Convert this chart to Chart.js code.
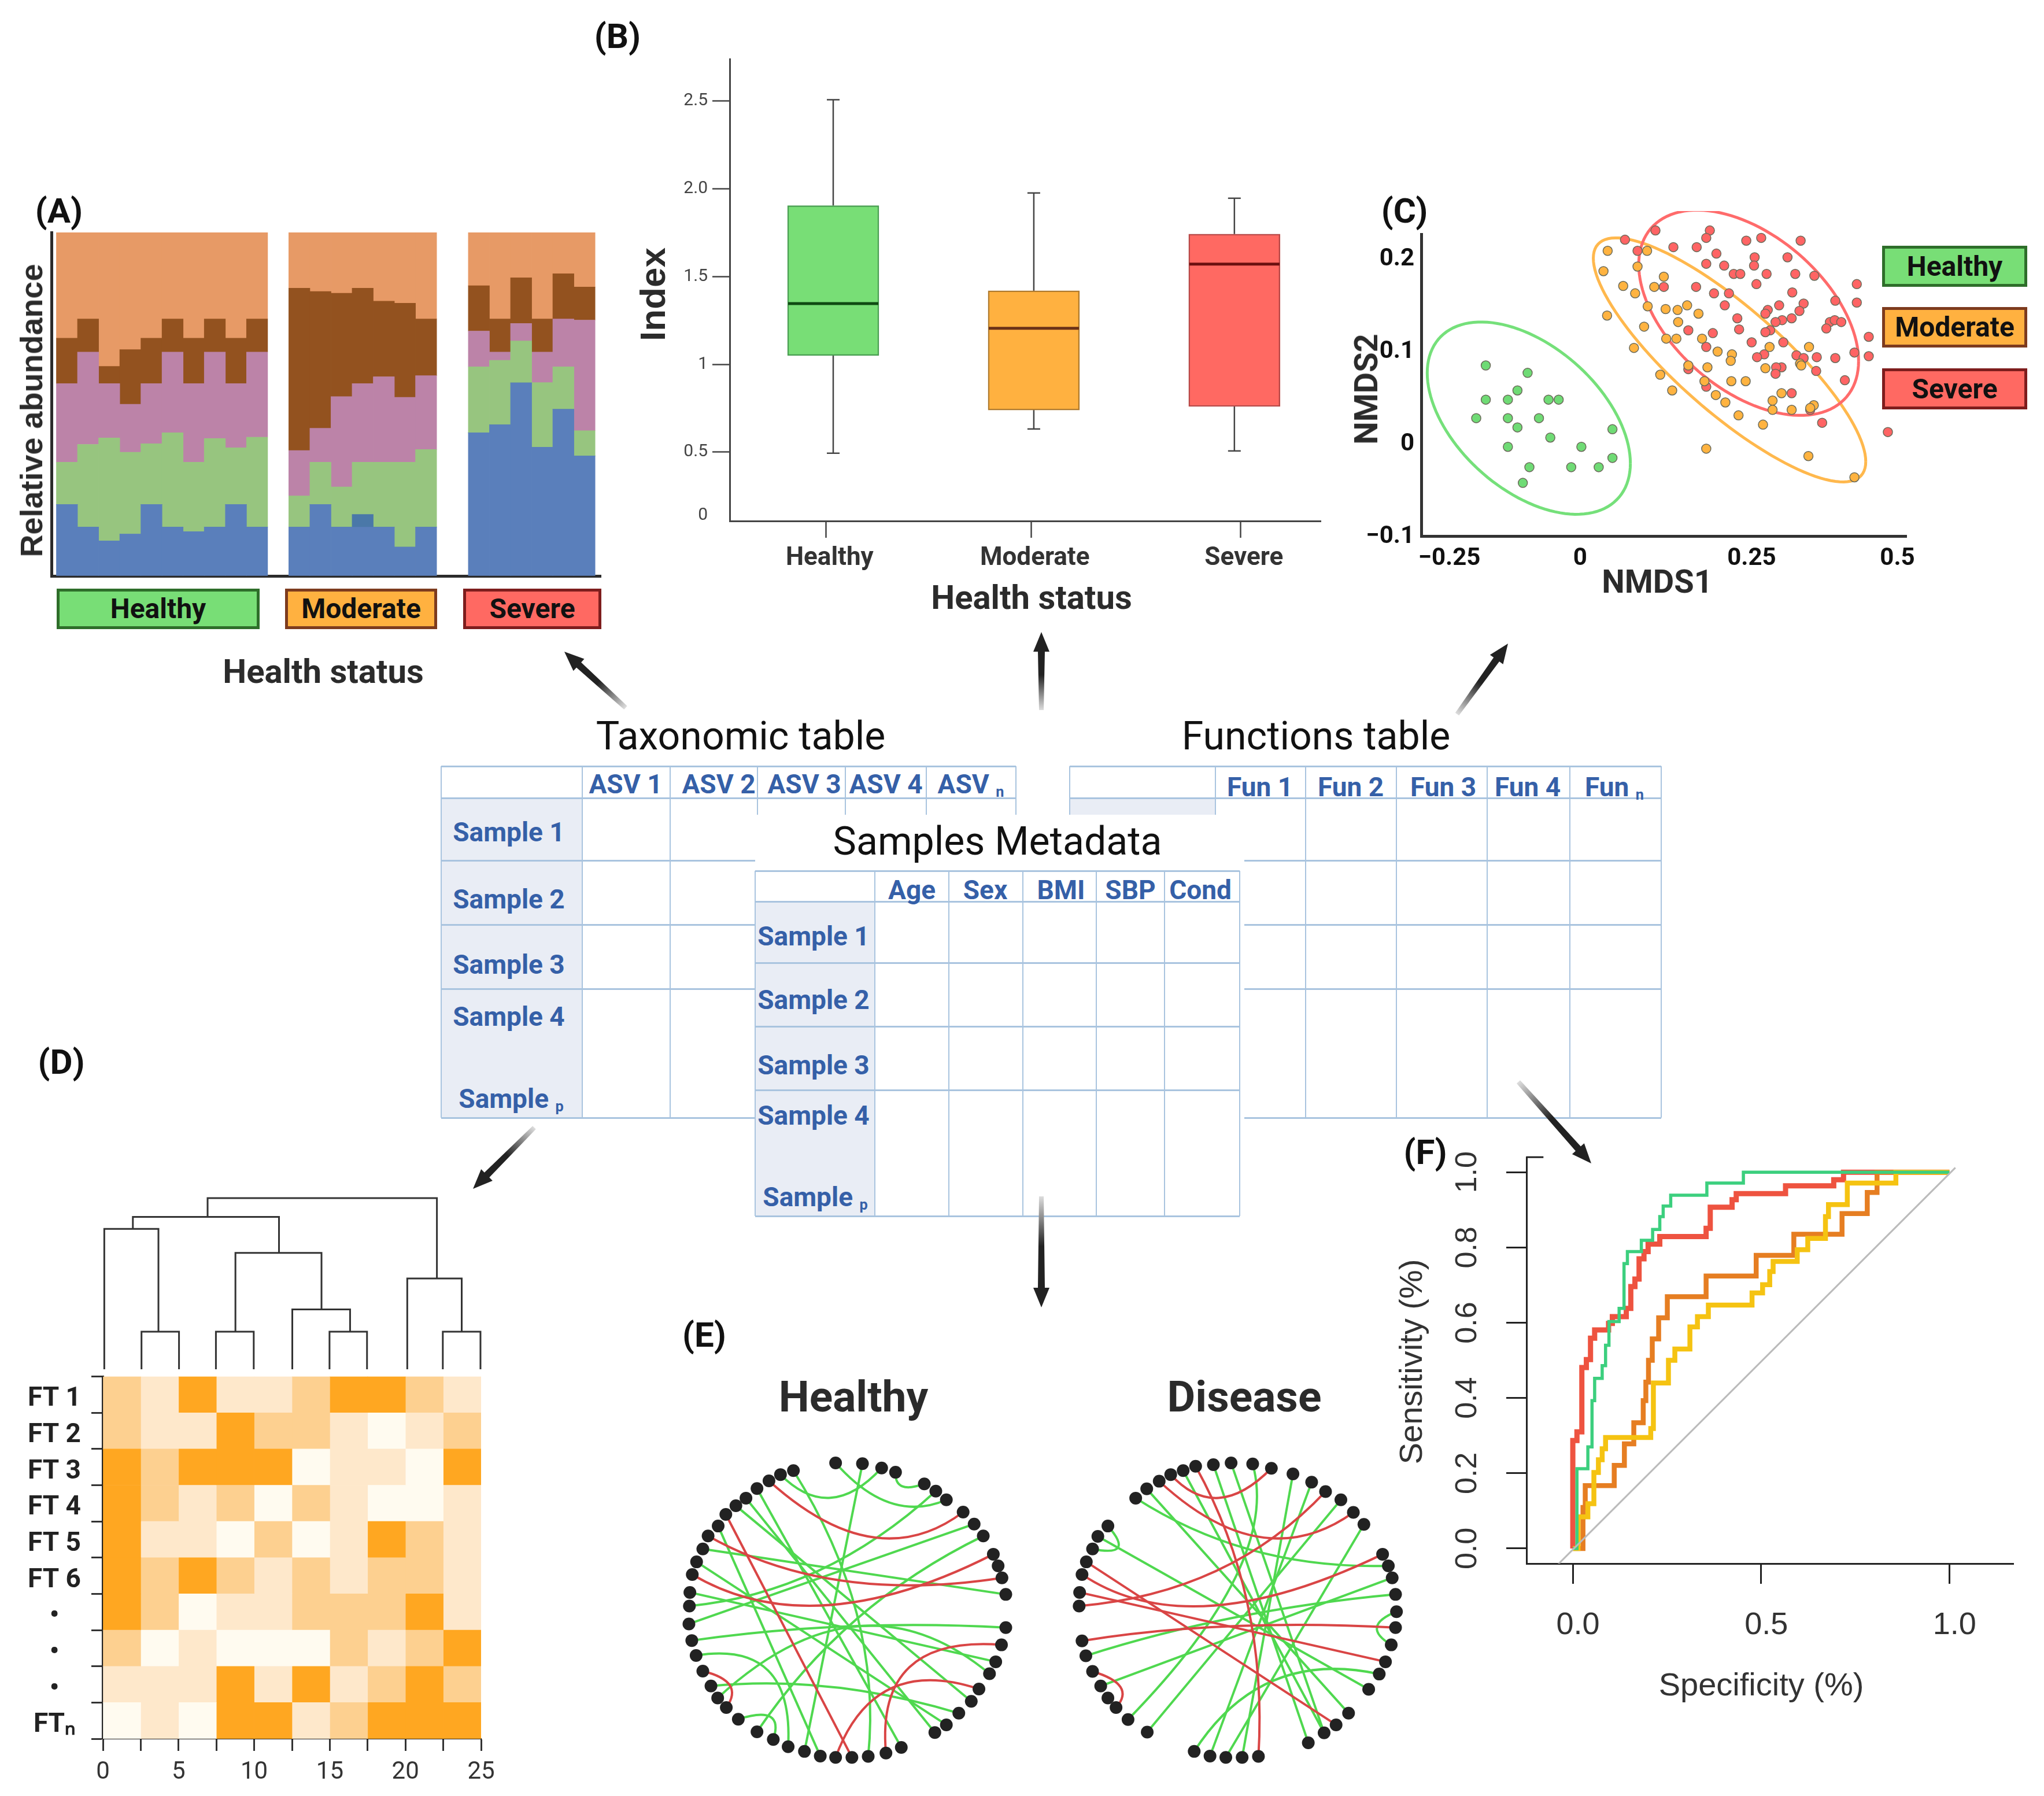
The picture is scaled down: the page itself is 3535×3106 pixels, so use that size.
<!DOCTYPE html>
<html>
<head>
<meta charset="utf-8">
<style>
html,body{margin:0;padding:0;background:#fff}
#page{position:relative;width:3535px;height:3106px;overflow:hidden;background:#fff;font-family:Roboto,sans-serif}
#page canvas{position:absolute}
.t{position:absolute;white-space:nowrap;transform:translate(-50%,-50%);line-height:1}
.ln{position:absolute;background:#a9c4df}
.box{position:absolute;box-sizing:border-box;border-style:solid;border-width:5px}
sub{font-size:.55em;vertical-align:-.25em;line-height:0}
</style>
<script src="https://cdn.jsdelivr.net/npm/chart.js@4/dist/chart.umd.min.js"></script>
</head>
<body>
<div id="page"></div>
<script>
// ----- (A) stacked relative abundance, % -----
const abundanceSlots = [.5,1.5,2.5,3.5,4.5,5.5,6.5,7.5,8.5,9.5, 11.5,12.5,13.5,14.5,15.5,16.5,17.5, 20,21,22,23,24,25];
const abundanceBlue = [20.8,14.2,10.2,12.2,20.8,14.2,12.9,14.2,20.8,14.2, 14.2,20.8,14.2,14.2,14.2,8.4,14.2, 41.7,44.0,56.2,37.5,48.5,34.9];
const abundanceOverlap = [0,0,0,0,0,0,0,0,0,0, 0,0,0,3.7,0,0,0, 0,0,0,0,0,0];
const abundanceGreen = [12.3,24.1,30.0,23.8,17.7,27.5,20.2,25.8,16.5,26.2, 9.1,12.3,11.7,15.2,18.9,24.7,22.6, 19.2,18.8,12.2,18.8,12.4,7.4];
const abundancePink = [22.9,26.9,15.8,14.0,17.5,23.5,22.9,25.2,18.7,24.8, 13.2,9.9,26.3,22.9,24.9,18.9,21.5, 10.4,2.4,5.1,8.9,13.9,32.2];
const abundanceBrown = [13.2,9.6,5.0,15.9,13.2,9.6,13.2,9.6,13.2,9.6, 47.3,39.8,30.1,27.8,22.0,27.4,16.5, 13.2,9.6,13.3,9.6,13.2,9.6];
const abundanceOrange = [30.8,25.2,39.0,34.1,30.8,25.2,30.8,25.2,30.8,25.2, 16.2,17.2,17.7,16.2,20.0,20.6,25.2, 15.5,25.2,13.2,25.2,12.0,15.9];

// ----- (B) box plot -----
const boxCats = [1,2,3];
const boxLow = [.494,.632,.507];
const boxQ1 = [1.05,.74,.76];
const boxMedian = [1.346,1.205,1.571];
const boxQ3 = [1.904,1.419,1.742];
const boxHigh = [2.507,1.976,1.946];
const boxYTicks = [.138,.5,1,1.5,2,2.5];
const boxYLabels = ["0","0.5","1","1.5","2.0","2.5"];
const boxXTicks = [.965,1.988,3.03];
const boxXLabels = ["Healthy","Moderate","Severe"];

// ----- (C) NMDS ordination -----
const nmdsHealthy = [[-.189,.082],[-.119,.074],[-.136,.055],[-.189,.045],[-.152,.045],[-.084,.045],[-.067,.045],[-.205,.025],[-.152,.025],[-.100,.025],[-.136,.015],[.023,.013],[-.081,.004],[-.152,-.006],[-.029,-.006],[.023,-.018],[-.116,-.028],[-.046,-.028],[0,-.028],[-.127,-.045]];
const nmdsModerate = [[.015,.206],[.081,.206],[.008,.184],[.065,.189],[.109,.178],[.041,.168],[.093,.167],[.061,.160],[.082,.146],[.112,.143],[.132,.142],[.148,.147],[.167,.138],[.014,.136],[.133,.129],[.076,.124],[.113,.111],[.130,.111],[.173,.111],[.059,.101],[.199,.097],[.286,.102],[.352,.102],[.223,.094],[.221,.087],[.150,.082],[.182,.080],[.279,.079],[.337,.084],[.339,.082],[.103,.072],[.177,.065],[.222,.065],[.246,.065],[.123,.055],[.196,.050],[.306,.052],[.291,.044],[.212,.042],[.360,.039],[.291,.034],[.323,.034],[.354,.036],[.234,.028],[.275,.018],[.180,-.008],[.351,-.016],[.428,-.039]];
const nmdsSevere = [[-.104,.230],[.044,.218],[.095,.228],[.186,.228],[.180,.220],[.253,.230],[.247,.217],[.272,.220],[.338,.217],[.065,.206],[.125,.210],[.164,.210],[.197,.203],[.261,.199],[.316,.199],[.180,.192],[.210,.190],[.260,.190],[.226,.181],[.237,.181],[.281,.181],[.329,.181],[.361,.179],[.264,.170],[.432,.170],[.109,.167],[.163,.167],[.193,.160],[.218,.160],[.324,.161],[.396,.152],[.432,.150],[.343,.149],[.302,.147],[.211,.147],[.283,.142],[.336,.141],[.279,.138],[.232,.133],[.323,.133],[.307,.131],[.296,.129],[.387,.129],[.395,.131],[.406,.129],[.150,.120],[.191,.117],[.235,.121],[.381,.122],[.287,.120],[.279,.118],[.452,.113],[.256,.107],[.309,.107],[.180,.102],[.277,.094],[.265,.091],[.428,.096],[.331,.093],[.343,.090],[.365,.091],[.396,.090],[.452,.092],[.150,.078],[.306,.080],[.297,.080],[.296,.073],[.364,.076],[.412,.066],[.180,.059],[.323,.052],[.354,.034],[.374,.020],[.484,.010]];
const nmdsEllipseCx = [-.117,.219,.251];
const nmdsEllipseCy = [.025,.088,.139];
const nmdsEllipseSx = [.170,.228,.184];
const nmdsEllipseSy = [.104,.132,.111];
const nmdsEllipseRho = [-.47,-.833,-.47];
const nmdsXTicks = [-.25,-.031,.256,.5];
const nmdsXLabels = ["\u22120.25","0","0.25","0.5"];
const nmdsYTicks = [-.1,0,.1,.2];
const nmdsYLabels = ["\u22120.1","0","0.1","0.2"];

// ----- (D) heatmap levels, rows top to bottom -----
const heatLabels = ["FT 1","FT 2","FT 3","FT 4","FT 5","FT 6","\u2022","\u2022","\u2022","FT\u2099"];
const heatRows = [
  [2,1,3,1,1,2,3,3,2,1],
  [2,1,1,3,2,2,1,0,1,2],
  [3,2,3,3,3,0,1,1,0,3],
  [3,2,1,2,0,2,1,0,0,1],
  [3,1,1,0,2,0,1,3,2,1],
  [3,2,3,2,1,2,1,2,2,1],
  [3,2,0,1,1,2,2,2,3,1],
  [2,0,1,0,0,0,2,1,2,3],
  [1,1,1,3,1,3,1,2,3,2],
  [0,1,0,3,3,1,2,3,3,3]
];
const heatCellWidth = 2.5;
// dendrogram links: left x, left base, right x, right base, merge height
const dendroLinks = [
  [2.55,0,5.03,0,2.2],[.09,0,3.67,2.2,8.2],[7.47,0,9.97,0,2.2],[14.98,0,17.46,0,2.2],
  [12.52,0,16.34,2.2,3.5],[8.76,2.2,14.45,3.5,6.8],[1.98,8.2,11.64,6.8,8.9],
  [22.47,0,24.96,0,2.2],[20.12,0,23.72,2.2,5.3],[6.92,8.9,22.08,5.3,10]
];

// ----- (E) networks, layout units; edges are [from,to] or [from,to,ctrlX,ctrlY] -----
const healthyNodes = [[356,575],[412,577],[452,590],[481,603],[541,638],[565,660],[587,686],[622,723],[645,759],[664,795],[685,850],[695,885],[703,921],[711,971],[711,1071],[702,1123],[690,1174],[677,1210],[655,1256],[639,1293],[613,1329],[587,1364],[563,1387],[493,1432],[461,1449],[424,1459],[390,1462],[356,1462],[324,1458],[291,1444],[257,1430],[226,1408],[192,1385],[153,1347],[128,1312],[110,1283],[96,1247],[79,1202],[65,1155],[56,1110],[50,1060],[51,1006],[52,965],[57,911],[66,873],[79,834],[90,795],[111,765],[127,730],[148,704],[169,681],[192,652],[217,629],[241,610],[268,598]];
const healthyPos = [[54,25,454,1028],[1,29],[0,6,469,760],[53,2,344,760],[3,4,479,670],[5,41,332,967],[8,40],[9,32,372,1000],[35,17,407,888],[39,14,377,1044],[38,30,269,1108],[36,20,346,1212],[33,31,250,1302],[51,23],[50,22],[49,19],[47,28],[44,21],[42,16],[45,13]];
const healthyNeg = [[52,7,440,920],[48,26],[46,12,344,1002],[43,10,309,1126],[37,34,167,1233],[27,18,435,1151],[24,15,439,1094]];
const diseaseNodes = [[982,681],[1005,653],[1031,630],[1055,610],[1081,598],[1107,585],[1144,580],[1181,575],[1226,578],[1265,591],[1310,608],[1349,633],[1378,661],[1410,686],[1436,724],[1458,760],[1497,850],[1509,885],[1517,921],[1524,971],[1526,1023],[1524,1071],[1515,1123],[1503,1174],[1490,1211],[1468,1257],[1426,1329],[1400,1364],[1375,1388],[1342,1418],[1238,1459],[1204,1462],[1170,1462],[1137,1458],[1104,1444],[1006,1386],[966,1348],[941,1312],[924,1283],[909,1247],[892,1203],[878,1156],[870,1111],[864,1006],[865,965],[870,911],[879,873],[892,834],[903,796],[924,765]];
const diseasePos = [[0,17,1215,897],[4,28],[6,29],[7,28],[1,26],[48,25],[34,24,1243,1133],[33,11],[32,15],[31,10],[8,36,1284,877],[35,13],[39,18],[41,19,1179,1017],[49,47,982,860],[20,22,1450,1067]];
const diseaseNeg = [[5,30,1258,978],[3,9,1150,760],[2,14,1247,919],[43,12,1179,967],[44,23],[45,16,1096,1130],[46,27],[42,21,1163,1043],[40,37,984,1243]];

// ----- (F) ROC steps -----
const rocGreenX = [0,.011,.040,.051,.058,.078,.087,.096,.123,.136,.145,.182,.212,.231,.240,.260,.356,.453,1];
const rocGreenY = [0,.212,.270,.393,.452,.486,.540,.603,.638,.757,.789,.819,.848,.882,.910,.939,.971,1,1];
const rocYellowX = [0,.014,.040,.056,.068,.078,.087,.207,.214,.254,.271,.311,.331,.360,.476,.504,.523,.532,.596,.624,.671,.679,.729,.858,1];
const rocYellowY = [0,.084,.119,.202,.236,.265,.295,.319,.440,.500,.530,.589,.616,.647,.679,.701,.736,.763,.794,.824,.882,.914,.971,1,1];
const rocOrangeX = [0,.027,.033,.110,.137,.162,.187,.194,.201,.211,.228,.251,.354,.487,.587,.715,.782,.808,1];
const rocOrangeY = [0,.109,.167,.221,.278,.334,.393,.442,.500,.557,.613,.669,.724,.779,.835,.890,.946,1,1];
const rocRedX = [0,0,.011,.024,.036,.047,.058,.095,.105,.142,.154,.165,.176,.189,.200,.231,.354,.365,.423,.434,.565,.693,.719,1];
const rocRedY = [0,.287,.310,.481,.502,.559,.581,.598,.616,.638,.696,.716,.770,.789,.809,.829,.851,.907,.927,.943,.964,.980,1,1];
const rocXTicks = [0,.5,1];
const rocXLabels = ["0.0","0.5","1.0"];
const rocYTicks = [0,.2,.4,.6,.8,1];
const rocYLabels = ["0.0","0.2","0.4","0.6","0.8","1.0"];

// ----- tables -----
const taxonomicCols = ["ASV 1","ASV 2","ASV 3","ASV 4","ASV <sub>n</sub>"];
const functionCols = ["Fun 1","Fun 2","Fun 3","Fun 4","Fun <sub>n</sub>"];
const metadataCols = ["Age","Sex","BMI","SBP","Cond"];
const sampleRows = ["Sample 1","Sample 2","Sample 3","Sample 4","Sample <sub>p</sub>"];

// ----- colours -----
const GREEN="#78de76", ORANGE="#ffb140", RED="#ff6962", INK="#2b2b2b";
const heatColors = ["#fffbf0","#fee8cb","#fdd090","#ffa721"];

// ----- helpers -----
const page = document.getElementById("page");
function text(html,x,y,size,weight,o){
  o=o||{};
  const d=document.createElement("div");
  d.className="t"; d.innerHTML=html;
  d.style.left=x+"px"; d.style.top=y+"px";
  d.style.fontSize=size+"px"; d.style.fontWeight=weight;
  d.style.color=o.color||INK;
  if(o.family) d.style.fontFamily=o.family;
  if(o.rot) d.style.transform="translate(-50%,-50%) rotate("+o.rot+"deg)";
  page.appendChild(d);
}
function rect(x,y,w,h,bg){
  const d=document.createElement("div");
  d.className="ln";
  d.style.cssText+=`left:${x}px;top:${y}px;width:${w}px;height:${h}px;background:${bg};`;
  page.appendChild(d);
}
function tag(label,l,t,r,b,fill,edge){
  const d=document.createElement("div");
  d.className="box";
  d.style.cssText+=`left:${l}px;top:${t}px;width:${r-l}px;height:${b-t}px;background:${fill};border-color:${edge};`;
  page.appendChild(d);
  text(label,(l+r)/2,(t+b)/2,48,700,{color:"#111"});
}
// canvas sized so the chart area lands on area={l,t,r,b}; m = margins round it
function canvasFor(area,m){
  const c=document.createElement("canvas");
  c.width=area.r-area.l+m.l+m.r;
  c.height=area.b-area.t+m.t+m.b;
  c.style.left=(area.l-m.l)+"px";
  c.style.top=(area.t-m.t)+"px";
  page.appendChild(c);
  return c;
}
function baseOptions(m){
  return {
    responsive:false, animation:false, devicePixelRatio:1,
    layout:{autoPadding:false,padding:{top:m.t,right:m.r,left:0,bottom:0}},
    plugins:{legend:{display:false},tooltip:{enabled:false}}
  };
}
const setTicks = (arr)=> (s)=>{ s.ticks=arr.map(v=>({value:v})); };
const pts = (a)=> a.map(p=>({x:p[0],y:p[1]}));
const zipXY = (xs,ys)=> xs.map((x,i)=>({x,y:ys[i]}));

// ----- (A) -----
(function(){
  const area={l:89,t:402,r:1039,b:996}, m={l:6,t:4,r:4,b:6};
  const ds=(data,color)=>({data:abundanceSlots.map((x,i)=>({x,y:data[i]})),backgroundColor:color,barThickness:36.6,borderWidth:0});
  new Chart(canvasFor(area,m),{
    type:"bar",
    data:{datasets:[
      ds(abundanceBlue,"#5a7fbb"),ds(abundanceOverlap,"#4a78a8"),ds(abundanceGreen,"#97c57f"),
      ds(abundancePink,"#bc83a8"),ds(abundanceBrown,"#93521f"),ds(abundanceOrange,"#e79a66")
    ]},
    options:Object.assign(baseOptions(m),{scales:{
      x:{type:"linear",stacked:true,offset:false,min:-.233,max:25.77,afterFit:s=>{s.height=m.b;},
         grid:{offset:false,drawOnChartArea:false,drawTicks:false},ticks:{display:false},border:{color:INK,width:5}},
      y:{stacked:true,min:0,max:100,afterFit:s=>{s.width=m.l;},
         grid:{drawOnChartArea:false,drawTicks:false},ticks:{display:false},border:{color:INK,width:5}}
    }})
  });
})();
tag("Healthy",98,1018,449,1088,GREEN,"#2e6e2a");
tag("Moderate",493,1018,756,1088,ORANGE,"#7d3b1e");
tag("Severe",801,1018,1040,1088,RED,"#7e1d1d");

// ----- (B) -----
(function(){
  const area={l:1262,t:102,r:2284,b:901}, m={l:90,t:40,r:20,b:90};
  const fills=[GREEN,ORANGE,RED], edges=["#4a9e52","#b07a2c","#b84a48"], meds=["#0f4a12","#6b3218","#6b1010"];
  const whiskers={id:"whiskers",
    beforeDatasetsDraw(ch){
      const c=ch.ctx,x=ch.scales.x,y=ch.scales.y;
      c.save(); c.strokeStyle="#444"; c.lineWidth=2.5;
      boxCats.forEach((k,i)=>{
        const px=x.getPixelForValue(k);
        [[boxLow[i],boxQ1[i]],[boxQ3[i],boxHigh[i]]].forEach(s=>{
          c.beginPath(); c.moveTo(px,y.getPixelForValue(s[0])); c.lineTo(px,y.getPixelForValue(s[1])); c.stroke();
        });
        [boxLow[i],boxHigh[i]].forEach(v=>{
          const py=y.getPixelForValue(v);
          c.beginPath(); c.moveTo(px-11,py); c.lineTo(px+11,py); c.stroke();
        });
      });
      c.restore();
    },
    afterDatasetsDraw(ch){
      const c=ch.ctx,x=ch.scales.x,y=ch.scales.y;
      c.save(); c.lineWidth=5;
      boxCats.forEach((k,i)=>{
        const px=x.getPixelForValue(k),py=y.getPixelForValue(boxMedian[i]);
        c.strokeStyle=meds[i];
        c.beginPath(); c.moveTo(px-78,py); c.lineTo(px+78,py); c.stroke();
      });
      c.restore();
    }};
  new Chart(canvasFor(area,m),{
    type:"bar",
    data:{datasets:[{
      data:boxCats.map((k,i)=>({x:k,y:[boxQ1[i],boxQ3[i]]})),
      backgroundColor:fills,borderColor:edges,borderWidth:2.5,borderSkipped:false,barThickness:158
    }]},
    options:Object.assign(baseOptions(m),{scales:{
      x:{type:"linear",offset:false,min:.484,max:3.43,afterBuildTicks:setTicks(boxXTicks),afterFit:s=>{s.height=m.b;},
         grid:{offset:false,drawOnChartArea:false,tickLength:29,tickWidth:2.5,tickColor:"#444"},border:{color:"#444",width:3},
         ticks:{autoSkip:false,maxRotation:0,padding:10,labelOffset:6,color:"#333",font:{family:"Roboto",size:44,weight:"700"},callback:(v,i)=>boxXLabels[i]}},
      y:{min:.108,max:2.739,afterBuildTicks:setTicks(boxYTicks),afterFit:s=>{s.width=m.l;},
         grid:{drawOnChartArea:false,tickLength:30,tickWidth:2.5,tickColor:c=>c.index===0?"rgba(0,0,0,0)":"#444"},border:{color:"#444",width:3},
         ticks:{autoSkip:false,padding:8,color:"#444",font:{family:"Roboto",size:30},callback:(v,i)=>boxYLabels[i]}}
    }}),
    plugins:[whiskers]
  });
})();

// ----- (C) -----
(function(){
  const area={l:2458,t:405,r:3297,b:927}, m={l:100,t:40,r:60,b:70};
  const ellColors=["#75e07a","#ffb84d","#ff6b6b"];
  const ellipses={id:"ellipses",beforeDatasetsDraw(ch){
    const c=ch.ctx,x=ch.scales.x,y=ch.scales.y;
    c.save(); c.lineWidth=5;
    nmdsEllipseCx.forEach((cx,i)=>{
      const s=Math.sqrt(1-nmdsEllipseRho[i]*nmdsEllipseRho[i]);
      c.strokeStyle=ellColors[i]; c.beginPath();
      for(let k=0;k<=120;k++){
        const t=k/120*2*Math.PI;
        const vx=cx+nmdsEllipseSx[i]*Math.cos(t);
        const vy=nmdsEllipseCy[i]+nmdsEllipseSy[i]*(nmdsEllipseRho[i]*Math.cos(t)+s*Math.sin(t));
        const px=x.getPixelForValue(vx),py=y.getPixelForValue(vy);
        if(k) c.lineTo(px,py); else c.moveTo(px,py);
      }
      c.stroke();
    });
    c.restore();
  }};
  const ds=(a,col)=>({data:pts(a),backgroundColor:col,borderColor:"#6b6b5a",borderWidth:1.5,pointRadius:8,clip:false});
  new Chart(canvasFor(area,m),{
    type:"scatter",
    data:{datasets:[ds(nmdsHealthy,"#6fdb75"),ds(nmdsModerate,"#ffb340"),ds(nmdsSevere,"#ff6464")]},
    options:Object.assign(baseOptions(m),{scales:{
      x:{type:"linear",min:-.297,max:.515,afterBuildTicks:setTicks(nmdsXTicks),afterFit:s=>{s.height=m.b;},
         grid:{drawOnChartArea:false,drawTicks:false},border:{color:"#333",width:5},
         ticks:{autoSkip:false,maxRotation:0,padding:14,color:"#111",font:{family:"Roboto",size:42,weight:"700"},callback:(v,i)=>nmdsXLabels[i]}},
      y:{type:"linear",min:-.1025,max:.224,afterBuildTicks:setTicks(nmdsYTicks),afterFit:s=>{s.width=m.l;},
         grid:{drawOnChartArea:false,drawTicks:false},border:{color:"#333",width:5},
         ticks:{autoSkip:false,padding:12,labelOffset:5,color:"#111",font:{family:"Roboto",size:42,weight:"700"},callback:(v,i)=>nmdsYLabels[i]}}
    }}),
    plugins:[ellipses]
  });
})();
tag("Healthy",3255,425,3506,496,GREEN,"#2e6e2a");
tag("Moderate",3255,531,3506,601,ORANGE,"#7d3b1e");
tag("Severe",3255,637,3506,708,RED,"#7e1d1d");

// ----- (D) heatmap + dendrogram -----
(function(){
  const area={l:178,t:2375,r:832,b:3007}, m={l:170,t:40,r:40,b:80};
  const cols=heatRows[0].map((_,c)=>({
    data:heatRows.map(()=>heatCellWidth),
    backgroundColor:heatRows.map(r=>heatColors[r[c]]),
    borderWidth:0,barPercentage:1,categoryPercentage:1
  }));
  new Chart(canvasFor(area,m),{
    type:"bar",
    data:{labels:heatLabels,datasets:cols},
    options:Object.assign(baseOptions(m),{indexAxis:"y",scales:{
      x:{type:"linear",stacked:true,min:0,max:25,afterFit:s=>{s.height=m.b;},
         grid:{drawOnChartArea:false,tickLength:21,tickWidth:3,tickColor:"#333"},border:{color:"#222",width:2},
         ticks:{stepSize:2.5,autoSkip:false,maxRotation:0,padding:12,color:"#333",font:{family:"Roboto",size:42},callback:v=>v%5===0?String(v):""}},
      y:{stacked:true,afterFit:s=>{s.width=m.l;},
         grid:{drawOnChartArea:false,tickLength:20,tickWidth:3,tickColor:"#333"},border:{color:"#222",width:4},
         ticks:{autoSkip:false,crossAlign:"center",padding:18,labelOffset:8,color:"#222",font:{family:"Roboto",size:46,weight:"700"}}}
    }})
  });
  const dArea={l:178,t:2072,r:832,b:2368}, dm={l:4,t:4,r:4,b:4};
  const links=dendroLinks.map(k=>({
    data:[{x:k[0],y:k[1]},{x:k[0],y:k[4]},{x:k[2],y:k[4]},{x:k[2],y:k[3]}],
    showLine:true,borderColor:"#333",borderWidth:3,pointRadius:0,clip:false,borderJoinStyle:"miter"
  }));
  const o=baseOptions({t:4,r:4});
  o.layout.padding={top:4,right:4,left:4,bottom:4};
  o.scales={x:{type:"linear",display:false,min:0,max:25},y:{type:"linear",display:false,min:0,max:10}};
  new Chart(canvasFor(dArea,dm),{type:"scatter",data:{datasets:links},options:o});
})();

// ----- (E) networks -----
(function(){
  const area={l:1150,t:2487,r:2450,b:3061}, m={l:0,t:0,r:0,b:0};
  const edgePlugin={id:"edges",beforeDatasetsDraw(ch){
    const c=ch.ctx,x=ch.scales.x,y=ch.scales.y;
    const draw=(nodes,edges,col)=>{
      c.strokeStyle=col;
      edges.forEach(e=>{
        const a=nodes[e[0]],b=nodes[e[1]];
        c.beginPath();
        c.moveTo(x.getPixelForValue(a[0]),y.getPixelForValue(a[1]));
        if(e.length>2) c.quadraticCurveTo(x.getPixelForValue(e[2]),y.getPixelForValue(e[3]),x.getPixelForValue(b[0]),y.getPixelForValue(b[1]));
        else c.lineTo(x.getPixelForValue(b[0]),y.getPixelForValue(b[1]));
        c.stroke();
      });
    };
    c.save(); c.lineWidth=4;
    draw(healthyNodes,healthyPos,"#4fd84f"); draw(healthyNodes,healthyNeg,"#d94545");
    draw(diseaseNodes,diseasePos,"#4fd84f"); draw(diseaseNodes,diseaseNeg,"#d94545");
    c.restore();
  }};
  const ds=a=>({data:pts(a),backgroundColor:"#222",pointRadius:11,pointBorderWidth:0,clip:false});
  const o=baseOptions(m);
  o.scales={x:{type:"linear",display:false,min:0,max:1568},y:{type:"linear",display:false,min:500,max:1500,reverse:true}};
  new Chart(canvasFor(area,m),{type:"scatter",data:{datasets:[ds(healthyNodes),ds(diseaseNodes)]},options:o,plugins:[edgePlugin]});
})();

// ----- (F) ROC -----
(function(){
  const area={l:2640,t:2000,r:3482,b:2704}, m={l:140,t:60,r:20,b:130};
  const ds=(xs,ys,col,w)=>({data:zipXY(xs,ys),showLine:true,stepped:"before",borderColor:col,borderWidth:w,pointRadius:0,clip:false,borderJoinStyle:"miter"});
  new Chart(canvasFor(area,m),{
    type:"scatter",
    data:{datasets:[
      {data:[{x:-.038,y:-.041},{x:1.016,y:1.012}],showLine:true,borderColor:"#bbb",borderWidth:3,pointRadius:0},
      {data:[{x:-.123,y:1.04},{x:-.078,y:1.04}],showLine:true,borderColor:"#222",borderWidth:3,pointRadius:0,clip:false},
      ds(rocGreenX,rocGreenY,"#3ccf7e",5.5),
      ds(rocYellowX,rocYellowY,"#f5c312",8.5),
      ds(rocOrangeX,rocOrangeY,"#e67e22",8.5),
      ds(rocRedX,rocRedY,"#ee5340",9)
    ]},
    options:Object.assign(baseOptions(m),{scales:{
      x:{type:"linear",min:-.123,max:1.17,afterBuildTicks:setTicks(rocXTicks),afterFit:s=>{s.height=m.b;},
         grid:{drawOnChartArea:false,tickLength:35,tickWidth:3,tickColor:"#222"},border:{color:"#222",width:3},
         ticks:{autoSkip:false,maxRotation:0,padding:40,labelOffset:9,color:"#333",font:{family:"Liberation Sans",size:54},callback:(v,i)=>rocXLabels[i]}},
      y:{type:"linear",min:-.04,max:1.04,afterBuildTicks:setTicks(rocYTicks),afterFit:s=>{s.width=m.l;},
         grid:{drawOnChartArea:false,tickLength:35,tickWidth:3,tickColor:"#222"},border:{color:"#222",width:3},
         ticks:{autoSkip:false,minRotation:90,maxRotation:90,crossAlign:"center",padding:30,color:"#333",font:{family:"Liberation Sans",size:52},callback:(v,i)=>rocYLabels[i]}}
    }})
  });
})();

// ----- tables -----
const BLUE="#3560a8", SHADE="#e9edf5";
function drawTable(xs,ys,cols,colY,colCx){
  xs.forEach(x=>rect(x-1,ys[0],2,ys[ys.length-1]-ys[0],"#a9c4df"));
  ys.forEach(y=>rect(xs[0],y-1,xs[xs.length-1]-xs[0],2.5,"#a9c4df"));
  cols.forEach((c,i)=>text(c,colCx[i],colY,46,700,{color:BLUE}));
}
// taxonomic
rect(763,1380,244,553,SHADE);
drawTable([763,1007,1159,1310,1462,1602,1757],[1325,1380,1488,1599,1710,1933],taxonomicCols,1356,[1082,1243,1391,1532,1679]);
[[880,1439],[880,1555],[880,1668],[880,1758],[884,1900]].forEach((p,i)=>text(sampleRows[i],p[0],p[1],46,700,{color:BLUE}));
// functions
rect(1850,1380,252,553,SHADE);
drawTable([1850,2102,2258,2415,2572,2715,2873],[1325,1380,1488,1599,1710,1933],functionCols,1361,[2179,2336,2496,2642,2792]);
// metadata sits on a white patch over both
rect(1306,1409,846,700,"#fff");
rect(1306,1559,207,544,SHADE);
drawTable([1306,1513,1641,1769,1896,2014,2144],[1506,1559,1665,1775,1885,2103],metadataCols,1539,[1577,1704,1835,1955,2076]);
[[1407,1619],[1407,1729],[1407,1842],[1407,1929],[1410,2070]].forEach((p,i)=>text(sampleRows[i],p[0],p[1],46,700,{color:BLUE}));
text("Taxonomic table",1281,1273,68,400,{color:"#111"});
text("Functions table",2276,1273,68,400,{color:"#111"});
text("Samples Metadata",1725,1455,68,400,{color:"#111"});

// ----- panel letters and axis titles -----
[["(A)",102,365],["(B)",1068,63],["(C)",2429,365],["(D)",106,1837],["(E)",1218,2309],["(F)",2465,1993]]
  .forEach(p=>text(p[0],p[1],p[2],60,700,{color:"#111"}));
text("Relative abundance",54,710,54,700,{rot:-90,family:"Liberation Sans"});
text("Health status",559,1161,58,700);
text("Health status",1784,1033,58,700);
text("Index",1129,509,62,700,{rot:-90,family:"Liberation Sans"});
text("NMDS1",2866,1006,56,700);
text("NMDS2",2363,673,56,700,{rot:-90});
text("Healthy",1476,2415,75,700);
text("Disease",2152,2415,75,700);
text("Sensitivity (%)",2440,2355,56,400,{rot:-90,family:"Liberation Sans",color:"#333"});
text("Specificity (%)",3046,2913,56,400,{family:"Liberation Sans",color:"#333"});

// ----- arrows -----
const arrows=[[1082,1224,976,1127],[1801,1228,1801,1093],[2520,1235,2608,1113],[924,1950,818,2056],[1801,2069,1801,2261],[2626,1871,2752,2012]];
(function(){
  const NS="http://www.w3.org/2000/svg";
  const svg=document.createElementNS(NS,"svg");
  svg.setAttribute("width",3535); svg.setAttribute("height",3106);
  svg.style.cssText="position:absolute;left:0;top:0;pointer-events:none";
  const defs=document.createElementNS(NS,"defs"); svg.appendChild(defs);
  arrows.forEach((a,i)=>{
    const g=document.createElementNS(NS,"linearGradient");
    g.setAttribute("id","ag"+i); g.setAttribute("gradientUnits","userSpaceOnUse");
    g.setAttribute("x1",a[0]); g.setAttribute("y1",a[1]); g.setAttribute("x2",a[2]); g.setAttribute("y2",a[3]);
    [[0,"#ddd"],[.45,"#222"],[1,"#222"]].forEach(s=>{
      const st=document.createElementNS(NS,"stop");
      st.setAttribute("offset",s[0]); st.setAttribute("stop-color",s[1]); g.appendChild(st);
    });
    defs.appendChild(g);
    const dx=a[2]-a[0],dy=a[3]-a[1],len=Math.hypot(dx,dy),ux=dx/len,uy=dy/len,nx=-uy,ny=ux;
    const bx=a[2]-ux*34,by=a[3]-uy*34;
    const p=document.createElementNS(NS,"polygon");
    p.setAttribute("points",[
      [a[0]+nx*4,a[1]+ny*4],[bx+nx*6,by+ny*6],[bx+nx*14,by+ny*14],[a[2],a[3]],
      [bx-nx*14,by-ny*14],[bx-nx*6,by-ny*6],[a[0]-nx*4,a[1]-ny*4]
    ].map(q=>q[0].toFixed(1)+","+q[1].toFixed(1)).join(" "));
    p.setAttribute("fill","url(#ag"+i+")");
    svg.appendChild(p);
  });
  page.appendChild(svg);
})();
</script>
</body>
</html>
